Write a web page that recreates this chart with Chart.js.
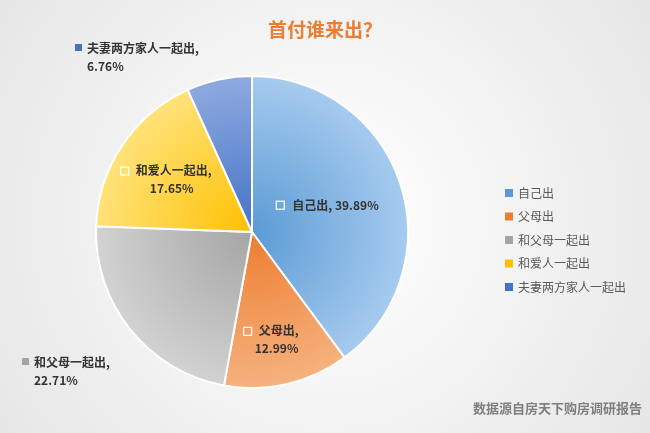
<!DOCTYPE html>
<html><head><meta charset="utf-8">
<script src="https://cdn.jsdelivr.net/npm/chart.js@4"></script>
<style>html,body{margin:0;padding:0;background:#fff}#wrap{width:650px;height:433px}</style>
</head><body><div id="wrap"><canvas id="c" width="650" height="433"></canvas></div>
<script>
const labels = ['自己出', '父母出', '和父母一起出', '和爱人一起出', '夫妻两方家人一起出']
const values = [39.89, 12.99, 22.71, 17.65, 6.76]
const darkColors = ['#5b9bd5', '#ed7d31', '#a5a5a5', '#ffc000', '#4472c4']
const lightColors = ['#a7cbef', '#f6b27f', '#d2d2d2', '#ffe27a', '#8eaae0']
const title = '首付谁来出？'
const source = '数据源自房天下购房调研报告'

// label placement per slice: [x offset or absolute, mode]
const labelPos = [
  {inside: true, r: 0.55, lines: 1},
  {inside: true, r: 0.7, lines: 2},
  {abs: [22, 362]},
  {inside: true, r: 0.62, lines: 2},
  {abs: [75, 48]}
]

function grad(ctx, i){
  const chart = ctx.chart
  const a = chart.chartArea
  if(!a) return darkColors[i]
  const cx = (a.left + a.right) / 2, cy = (a.top + a.bottom) / 2
  const r = Math.min(a.right - a.left, a.bottom - a.top) / 2
  const g = chart.ctx.createRadialGradient(cx, cy, 0, cx, cy, r)
  g.addColorStop(0, darkColors[i])
  g.addColorStop(1, lightColors[i])
  return g
}

const deco = {
  id: 'deco',
  beforeDraw(chart){
    const c = chart.ctx
    const g = c.createRadialGradient(325, 220, 20, 325, 220, 420)
    g.addColorStop(0, '#ffffff'); g.addColorStop(1, '#e4e4e4')
    c.save(); c.fillStyle = g; c.fillRect(0, 0, chart.width, chart.height); c.restore()
  },
  afterDraw(chart){
    const c = chart.ctx
    c.save()
    c.font = 'bold 19px "Noto Sans CJK SC"'
    c.fillStyle = '#ed7d31'; c.textAlign = 'center'; c.textBaseline = 'middle'
    c.fillText(title, 325, 30)
    c.font = 'bold 13px "Noto Sans CJK SC"'
    c.fillStyle = '#7f7f7f'; c.textAlign = 'right'
    c.fillText(source, 642, 408)
    // legend
    c.font = '12px "Noto Sans CJK SC"'; c.textAlign = 'left'
    labels.forEach((l, i) => {
      const y = 193 + i * 23.5
      c.fillStyle = darkColors[i]; c.fillRect(505, y - 4, 8, 8)
      c.fillStyle = '#595959'; c.fillText(l, 518, y)
    })
    // data labels
    const meta = chart.getDatasetMeta(0)
    c.font = 'bold 12px "Noto Sans CJK SC"'; c.fillStyle = '#333'
    meta.data.forEach((arc, i) => {
      const p = labelPos[i]
      const txt1 = labels[i] + ','
      const txt2 = values[i].toFixed(2) + '%'
      if(p.inside){
        const mid = (arc.startAngle + arc.endAngle) / 2
        const rr = arc.outerRadius * p.r
        const x = arc.x + Math.cos(mid) * rr, y = arc.y + Math.sin(mid) * rr
        c.textAlign = 'center'
        if(p.lines === 1){
          const t = txt1 + ' ' + txt2
          const w = c.measureText(t).width
          c.strokeStyle = '#fff'; c.lineWidth = 1.2
          c.strokeRect(x - w / 2 - 14, y - 4, 8, 8)
          c.fillText(t, x + 2, y)
        } else {
          const w = c.measureText(txt1).width
          c.strokeStyle = '#fff'; c.lineWidth = 1.2
          c.strokeRect(x - w / 2 - 13, y - 11, 8, 8)
          c.fillText(txt1, x + 2, y - 8)
          c.fillText(txt2, x, y + 10)
        }
      } else {
        const [x, y] = p.abs
        c.textAlign = 'left'
        c.fillStyle = darkColors[i]; c.fillRect(x, y - 4, 7, 7)
        c.fillStyle = '#333'
        c.fillText(txt1, x + 12, y)
        c.fillText(txt2, x + 12, y + 18)
      }
    })
    c.restore()
  }
}

new Chart(document.getElementById('c'), {
  type: 'pie',
  data: {
    labels,
    datasets: [{
      data: values,
      backgroundColor: ctx => grad(ctx, ctx.dataIndex),
      borderColor: '#fff',
      borderWidth: 2
    }]
  },
  options: {
    responsive: false,
    animation: false,
    layout: {padding: {left: 95, right: 241, top: 75, bottom: 44}},
    plugins: {legend: {display: false}, tooltip: {enabled: false}}
  },
  plugins: [deco]
})
</script></body></html>
